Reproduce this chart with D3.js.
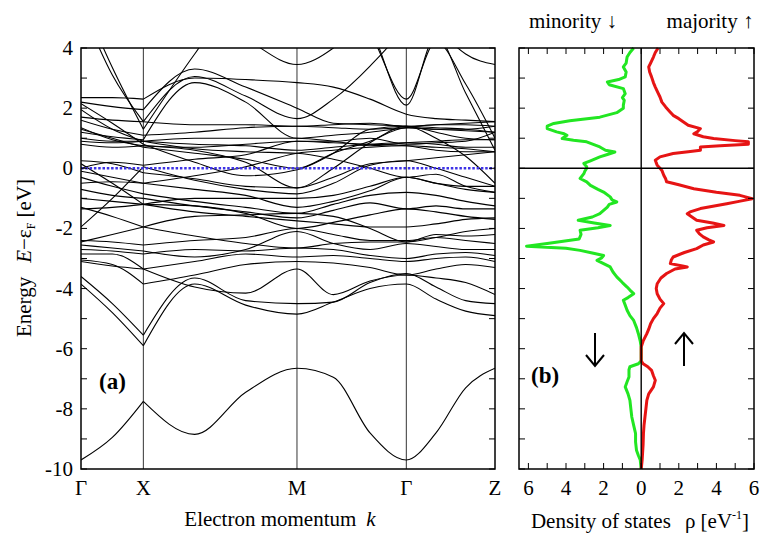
<!DOCTYPE html>
<html>
<head>
<meta charset="utf-8">
<script src="https://cdn.jsdelivr.net/npm/d3@7/dist/d3.min.js"></script>
<style>
  body { margin: 0; background: #fff; }
  svg text { font-family: "Liberation Serif", "Times New Roman", serif; fill: #000; }
</style>
</head>
<body>
<svg id="chart" width="762" height="535"></svg>
<script>
// --- k path: fractional positions of the samples along Γ-X-M-Γ-Z ---
const kSamples = [0, 0.0757, 0.1506, 0.2746, 0.3978, 0.5217, 0.6095, 0.6981, 0.7858, 0.8575, 0.9291, 1.0];
const kLabels = ["Γ", "X", "M", "Γ", "Z"];
const kLabelPos = [0, 0.1506, 0.5217, 0.7858, 1.0];
// bands are drawn in two pieces, Γ-X and X-Z, so the X point can be a cusp
const pieces = [[0, 2], [2, 11]];

// --- band energies (eV) at kSamples ---
const bands = [
  [-9.7, -8.95, -7.75, -8.85, -7.45, -6.65, -6.95, -8.8, -9.7, -8.8, -7.3, -6.65],
  [-3.6, -4.5, -5.55, -3.65, -4.4, -4.5, -4.45, -3.8, -3.5, -3.95, -4.4, -4.5],
  [-3.85, -4.8, -5.9, -3.85, -4.55, -4.85, -4.45, -4.0, -3.85, -4.35, -4.75, -4.9],
  [-3.1, -3.25, -3.35, -3.95, -4.15, -3.35, -4.2, -3.75, -3.55, -3.65, -3.8, -4.2],
  [-3.05, -3.2, -3.85, -3.55, -3.2, -3.1, -3.15, -3.3, -3.55, -3.35, -3.2, -3.3],
  [-2.85, -2.85, -3.35, -3.1, -2.85, -2.95, -2.9, -3.0, -3.1, -3.0, -2.95, -3.1],
  [-2.7, -2.75, -2.85, -2.7, -2.75, -2.65, -2.7, -2.9, -3.0, -2.85, -2.8, -2.9],
  [-2.55, -2.65, -2.75, -2.95, -2.7, -2.1, -2.5, -2.7, -2.5, -2.6, -2.7, -2.7],
  [-2.4, -2.45, -2.55, -2.4, -2.3, -2.0, -2.2, -2.4, -2.4, -2.3, -2.4, -2.5],
  [-2.45, -2.2, -1.95, -2.25, -2.5, -2.65, -2.5, -2.45, -2.45, -2.2, -2.25, -2.2],
  [-1.3, -1.6, -1.95, -1.6, -1.55, -1.5, -1.6, -2.0, -2.45, -2.3, -2.1, -2.0],
  [-1.95, -1.0, 0.05, -0.4, -0.7, -0.85, -0.5, 0.1, 0.25, 0.0, -0.3, -0.6],
  [0.15, -0.5, -1.2, -1.0, -1.0, -1.0, -0.9, -0.6, -0.3, -0.5, -0.7, -0.8],
  [0.25, 0.15, -0.15, -0.35, -0.6, -0.65, -0.3, 0.15, 0.25, 0.35, 0.45, 0.55],
  [-0.1, -0.3, -0.5, -0.25, 0.05, 0.5, 0.6, 0.7, 0.75, 0.7, 0.65, 0.55],
  [-0.3, -0.6, -0.85, -1.1, -1.3, -1.5, -1.2, -0.9, -0.8, -0.9, -1.1, -1.25],
  [-0.5, -0.45, -0.5, -0.7, -0.9, -1.3, -1.1, -0.75, -0.3, -0.5, -0.6, -0.6],
  [-0.7, -0.9, -1.0, -1.25, -1.45, -1.65, -1.4, -1.15, -1.35, -1.25, -1.35, -1.35],
  [-1.0, -1.1, -1.2, -1.45, -1.6, -1.75, -1.85, -1.95, -1.95, -1.85, -1.7, -1.65],
  [-1.35, -1.3, -1.2, -1.25, -1.5, -2.0, -1.8, -1.55, -1.35, -1.45, -1.6, -1.7],
  [1.35, 0.95, 0.75, 0.6, 0.2, -0.65, 0.0, 0.85, 1.4, 1.2, 1.0, 0.95],
  [1.3, 1.0, 0.7, 0.5, 0.3, 0.0, 0.5, 0.9, 1.35, 1.3, 1.25, 1.2],
  [0.9, 0.85, 0.9, 0.8, 0.75, 0.6, 0.7, 0.8, 0.85, 0.8, 0.7, 0.7],
  [0.8, 0.7, 0.75, 0.7, 0.8, 0.9, 0.85, 0.8, 0.75, 0.6, 0.55, 0.55],
  [1.0, 0.9, 0.9, 1.0, 1.0, 1.0, 0.9, 0.75, 0.85, 0.9, 0.95, 0.95],
  [1.7, 1.6, 1.55, 1.45, 1.45, 1.4, 1.45, 1.5, 1.4, 1.45, 1.5, 1.55],
  [1.6, 1.3, 1.1, 1.2, 1.35, 1.4, 1.35, 1.3, 1.35, 1.3, 1.3, 1.4],
  [2.15, 1.5, 0.8, 0.2, -0.25, -0.05, 0.5, 1.3, 1.4, 1.0, 0.4, -0.5],
  [1.95, 1.3, 0.9, 0.65, 0.55, 0.5, 0.3, 0.0, -0.3, -0.2, -0.6, -0.8],
  [0.0, 0.2, 0.1, 0.3, 0.45, 0.9, 0.9, 1.0, 0.8, 0.85, 0.9, 1.2],
  [5.4, 3.1, 1.55, 3.05, 2.4, 1.65, 2.3, 3.4, 4.8, 6.5, 6.5, 6.5],
  [5.7, 3.35, 1.3, 3.8, 6.0, 6.5, 6.5, 6.5, 6.5, 6.5, 6.5, 6.5],
  [2.2, 2.05, 1.95, 3.3, 2.7, 2.0, 1.5, 1.45, 1.4, 1.35, 1.3, 1.2],
  [1.2, 1.05, 0.95, 2.85, 2.2, 1.0, 1.1, 1.2, 1.35, 1.45, 1.45, 1.4],
  [6.5, 6.5, 6.5, 5.2, 4.3, 3.45, 4.0, 5.2, 6.5, 6.5, 6.5, 6.5],
  [2.35, 2.35, 2.3, 3.0, 2.95, 2.85, 2.7, 2.3, 1.8, 1.65, 1.6, 1.55],
  [6.5, 6.5, 6.5, 6.5, 6.5, 6.5, 5.8, 4.5, 2.3, 4.2, 2.8, 1.0],
  [6.5, 6.5, 6.5, 6.5, 6.5, 6.5, 6.0, 4.7, 2.1, 4.4, 2.5, 0.6],
  [6.5, 6.5, 6.5, 6.5, 6.5, 6.5, 6.5, 6.5, 6.5, 4.8, 3.8, 3.45]
];

// --- density of states (eV^-1) ---
const minorityE = [4.0, 3.85, 3.7, 3.5, 3.37, 3.2, 3.04, 2.95, 2.87, 2.78, 2.65, 2.48, 2.35, 2.26, 2.1, 2.0, 1.85, 1.7, 1.58, 1.49, 1.4, 1.32, 1.21, 1.15, 1.1, 0.99, 0.93, 0.88, 0.71, 0.6, 0.54, 0.46, 0.38, 0.25, 0.16, 0.05, 0.0, -0.1, -0.18, -0.34, -0.45, -0.57, -0.7, -0.79, -0.95, -1.05, -1.12, -1.2, -1.29, -1.4, -1.51, -1.62, -1.73, -1.82, -1.9, -1.98, -2.06, -2.2, -2.35, -2.5, -2.59, -2.66, -2.73, -2.82, -2.9, -2.98, -3.06, -3.17, -3.28, -3.45, -3.61, -3.8, -3.95, -4.05, -4.17, -4.3, -4.39, -4.55, -4.72, -4.9, -5.06, -5.3, -5.5, -5.75, -5.94, -6.4, -6.5, -6.6, -6.7, -6.94, -7.1, -7.27, -7.5, -7.72, -8.0, -8.27, -8.55, -8.82, -9.1, -9.38, -9.55, -9.7, -10.0];
const minorityRho = [0.4, 0.6, 0.75, 0.8, 0.95, 0.8, 0.85, 1.2, 1.8, 1.7, 0.95, 0.85, 1.0, 0.9, 0.95, 0.95, 1.3, 2.2, 3.8, 4.65, 5.0, 5.0, 4.5, 4.1, 3.95, 4.2, 3.6, 2.9, 2.2, 1.9, 1.4, 1.8, 2.2, 2.7, 3.05, 2.9, 2.9, 3.0, 3.05, 3.25, 2.9, 2.7, 2.3, 2.0, 1.65, 1.55, 1.3, 1.7, 1.8, 2.0, 2.2, 2.6, 3.35, 2.5, 1.65, 2.3, 3.25, 3.2, 3.3, 5.0, 6.1, 4.0, 3.25, 2.6, 2.0, 2.1, 2.35, 2.0, 1.65, 1.5, 1.3, 1.0, 0.75, 0.6, 0.4, 0.7, 0.95, 0.85, 0.75, 0.6, 0.4, 0.25, 0.15, 0.05, 0, 0, 0.15, 0.6, 0.65, 0.65, 0.75, 0.85, 0.7, 0.6, 0.55, 0.5, 0.4, 0.3, 0.3, 0.25, 0.15, 0.05, 0];
const majorityE = [4.0, 3.85, 3.7, 3.5, 3.37, 3.2, 3.04, 2.85, 2.7, 2.5, 2.37, 2.2, 2.04, 1.9, 1.76, 1.65, 1.54, 1.43, 1.32, 1.22, 1.15, 1.05, 0.99, 0.92, 0.88, 0.8, 0.75, 0.71, 0.6, 0.55, 0.49, 0.38, 0.27, 0.18, 0.1, 0.0, -0.07, -0.23, -0.35, -0.45, -0.55, -0.68, -0.8, -0.9, -1.01, -1.1, -1.18, -1.34, -1.45, -1.51, -1.62, -1.73, -1.82, -1.9, -1.98, -2.06, -2.18, -2.28, -2.38, -2.45, -2.55, -2.67, -2.8, -2.95, -3.05, -3.17, -3.25, -3.28, -3.35, -3.5, -3.65, -3.84, -4.0, -4.17, -4.35, -4.5, -4.65, -4.83, -5.0, -5.17, -5.35, -5.5, -5.75, -5.94, -6.4, -6.5, -6.6, -6.72, -6.9, -7.05, -7.27, -7.5, -7.72, -8.0, -8.27, -8.55, -8.82, -9.2, -9.7, -10.0];
const majorityRho = [0.9, 0.75, 0.65, 0.5, 0.4, 0.45, 0.55, 0.65, 0.75, 0.9, 1.0, 1.1, 1.3, 1.5, 1.7, 2.0, 2.25, 2.5, 3.15, 3.0, 2.8, 3.3, 3.85, 5.0, 5.7, 5.7, 4.2, 3.15, 3.15, 2.5, 1.7, 1.0, 0.75, 0.8, 0.85, 1.0, 1.1, 1.2, 1.3, 1.35, 2.0, 2.8, 4.0, 5.25, 5.9, 5.2, 4.55, 3.15, 2.6, 2.45, 2.7, 2.95, 3.8, 4.4, 3.5, 2.95, 3.1, 3.3, 3.6, 3.85, 3.3, 2.95, 2.3, 1.7, 1.6, 1.55, 2.2, 2.45, 1.8, 1.35, 1.05, 0.85, 0.8, 0.85, 1.0, 1.2, 1.0, 0.85, 0.65, 0.5, 0.4, 0.3, 0.1, 0, 0, 0.1, 0.35, 0.55, 0.65, 0.75, 0.65, 0.4, 0.3, 0.25, 0.2, 0.15, 0.12, 0.1, 0.05, 0];

const energyTicks = d3.range(-10, 4.01, 1);
const energyLabels = [4, 2, 0, -2, -4, -6, -8, -10];
const dosTicks = d3.range(-6, 6.01, 1);
const dosLabels = [-6, -4, -2, 0, 2, 4, 6];

// --- layout ---
const svg = d3.select("#chart");
const yTop = 48, yBottom = 469;
const bandX = d3.scaleLinear().domain([0, 1]).range([81, 495]);
const yE = d3.scaleLinear().domain([-10, 4]).range([yBottom, yTop]);
const dosX = d3.scaleLinear().domain([-6.5, 6.0]).range([519, 754]);
const tickLen = 6;

// ---------- panel (a): band structure ----------
svg.append("clipPath").attr("id", "clipA")
  .append("rect").attr("x", bandX(0)).attr("y", yTop)
  .attr("width", bandX(1) - bandX(0)).attr("height", yBottom - yTop);

const gA = svg.append("g");

// high-symmetry lines
gA.selectAll("line.hs").data(kLabelPos.slice(1, -1)).join("line")
  .attr("x1", d => bandX(d)).attr("x2", d => bandX(d))
  .attr("y1", yTop).attr("y2", yBottom)
  .attr("stroke", "#000").attr("stroke-width", 0.8);

const bandLine = d3.line()
  .x(d => bandX(d[0])).y(d => yE(d[1]))
  .curve(d3.curveMonotoneX);

const gBands = gA.append("g").attr("clip-path", "url(#clipA)");
bands.forEach(b => {
  pieces.forEach(([i0, i1]) => {
    const pts = d3.range(i0, i1 + 1).map(i => [kSamples[i], b[i]]);
    gBands.append("path").attr("d", bandLine(pts))
      .attr("fill", "none").attr("stroke", "#000").attr("stroke-width", 1.1);
  });
});

// Fermi level
gA.append("line")
  .attr("x1", bandX(0)).attr("x2", bandX(1))
  .attr("y1", yE(0)).attr("y2", yE(0))
  .attr("stroke", "#3d32e6").attr("stroke-width", 2.4)
  .attr("stroke-dasharray", "2.5,1.8");

// frame + energy ticks on both sides
gA.append("rect").attr("x", bandX(0)).attr("y", yTop)
  .attr("width", bandX(1) - bandX(0)).attr("height", yBottom - yTop)
  .attr("fill", "none").attr("stroke", "#000").attr("stroke-width", 1.5);
energyTicks.forEach(e => {
  gA.append("line").attr("x1", bandX(0)).attr("x2", bandX(0) + tickLen)
    .attr("y1", yE(e)).attr("y2", yE(e)).attr("stroke", "#000").attr("stroke-width", 1);
  gA.append("line").attr("x1", bandX(1)).attr("x2", bandX(1) - tickLen)
    .attr("y1", yE(e)).attr("y2", yE(e)).attr("stroke", "#000").attr("stroke-width", 1);
});
gA.selectAll("text.ey").data(energyLabels).join("text")
  .attr("x", 73).attr("y", d => yE(d) + 7)
  .attr("text-anchor", "end").attr("font-size", 21)
  .text(d => d);
gA.selectAll("text.kl").data(kLabels).join("text")
  .attr("x", (d, i) => bandX(kLabelPos[i])).attr("y", 495)
  .attr("text-anchor", "middle").attr("font-size", 21)
  .text(d => d);

const xTitle = svg.append("text").attr("x", 280).attr("y", 526)
  .attr("text-anchor", "middle").attr("font-size", 21);
xTitle.append("tspan").text("Electron momentum");
xTitle.append("tspan").attr("dx", 10).attr("font-style", "italic").text("k");

const yTitle = svg.append("text")
  .attr("transform", "translate(31,258) rotate(-90)")
  .attr("text-anchor", "middle").attr("font-size", 21);
yTitle.append("tspan").text("Energy");
yTitle.append("tspan").attr("dx", 14).attr("font-style", "italic").text("E");
yTitle.append("tspan").text("−ε");
yTitle.append("tspan").attr("font-size", 12).attr("dy", 4).text("F");
yTitle.append("tspan").attr("dy", -4).text(" [eV]");

svg.append("text").attr("x", 99).attr("y", 389)
  .attr("font-size", 23).attr("font-weight", "bold").text("(a)");

// ---------- panel (b): density of states ----------
const gB = svg.append("g");
const dosLine = d3.line().x(d => dosX(d[0])).y(d => yE(d[1]));

gB.append("path")
  .attr("d", dosLine(minorityE.map((e, i) => [-minorityRho[i], e])))
  .attr("fill", "none").attr("stroke", "#22e622").attr("stroke-width", 3)
  .attr("stroke-linejoin", "round");
gB.append("path")
  .attr("d", dosLine(majorityE.map((e, i) => [majorityRho[i], e])))
  .attr("fill", "none").attr("stroke", "#e61414").attr("stroke-width", 3)
  .attr("stroke-linejoin", "round");

gB.append("line").attr("x1", dosX(0)).attr("x2", dosX(0))
  .attr("y1", yTop).attr("y2", yBottom).attr("stroke", "#000").attr("stroke-width", 1.4);
gB.append("line").attr("x1", dosX(-6.5)).attr("x2", dosX(6.0))
  .attr("y1", yE(0)).attr("y2", yE(0)).attr("stroke", "#000").attr("stroke-width", 1.4);

gB.append("rect").attr("x", dosX(-6.5)).attr("y", yTop)
  .attr("width", dosX(6.0) - dosX(-6.5)).attr("height", yBottom - yTop)
  .attr("fill", "none").attr("stroke", "#000").attr("stroke-width", 1.5);
energyTicks.forEach(e => {
  gB.append("line").attr("x1", dosX(-6.5)).attr("x2", dosX(-6.5) + tickLen)
    .attr("y1", yE(e)).attr("y2", yE(e)).attr("stroke", "#000").attr("stroke-width", 1);
  gB.append("line").attr("x1", dosX(6.0)).attr("x2", dosX(6.0) - tickLen)
    .attr("y1", yE(e)).attr("y2", yE(e)).attr("stroke", "#000").attr("stroke-width", 1);
});
dosTicks.forEach(v => {
  gB.append("line").attr("x1", dosX(v)).attr("x2", dosX(v))
    .attr("y1", yTop).attr("y2", yTop + tickLen).attr("stroke", "#000").attr("stroke-width", 1);
  gB.append("line").attr("x1", dosX(v)).attr("x2", dosX(v))
    .attr("y1", yBottom).attr("y2", yBottom - tickLen).attr("stroke", "#000").attr("stroke-width", 1);
});
gB.selectAll("text.dl").data(dosLabels).join("text")
  .attr("x", d => dosX(d)).attr("y", 495)
  .attr("text-anchor", "middle").attr("font-size", 21)
  .text(d => Math.abs(d));

const dTitle = svg.append("text").attr("x", 640).attr("y", 528)
  .attr("text-anchor", "middle").attr("font-size", 21);
dTitle.append("tspan").text("Density of states");
dTitle.append("tspan").attr("dx", 14).text("ρ [eV");
dTitle.append("tspan").attr("font-size", 12).attr("dy", -9).text("-1");
dTitle.append("tspan").attr("dy", 9).text("]");

svg.append("text").attr("x", 573).attr("y", 28).attr("text-anchor", "middle")
  .attr("font-size", 21).text("minority ↓");
svg.append("text").attr("x", 710).attr("y", 28).attr("text-anchor", "middle")
  .attr("font-size", 21).text("majority ↑");

svg.append("text").attr("x", 531).attr("y", 383)
  .attr("font-size", 23).attr("font-weight", "bold").text("(b)");

// spin arrows
function spinArrow(x, yTail, yHead) {
  const dir = Math.sign(yHead - yTail);
  gB.append("line").attr("x1", x).attr("x2", x).attr("y1", yTail).attr("y2", yHead)
    .attr("stroke", "#000").attr("stroke-width", 2);
  gB.append("path")
    .attr("d", `M${x - 9},${yHead - dir * 11} L${x},${yHead} L${x + 9},${yHead - dir * 11}`)
    .attr("fill", "none").attr("stroke", "#000").attr("stroke-width", 2);
}
spinArrow(595, 333, 366);
spinArrow(684, 366, 333);
</script>
</body>
</html>
